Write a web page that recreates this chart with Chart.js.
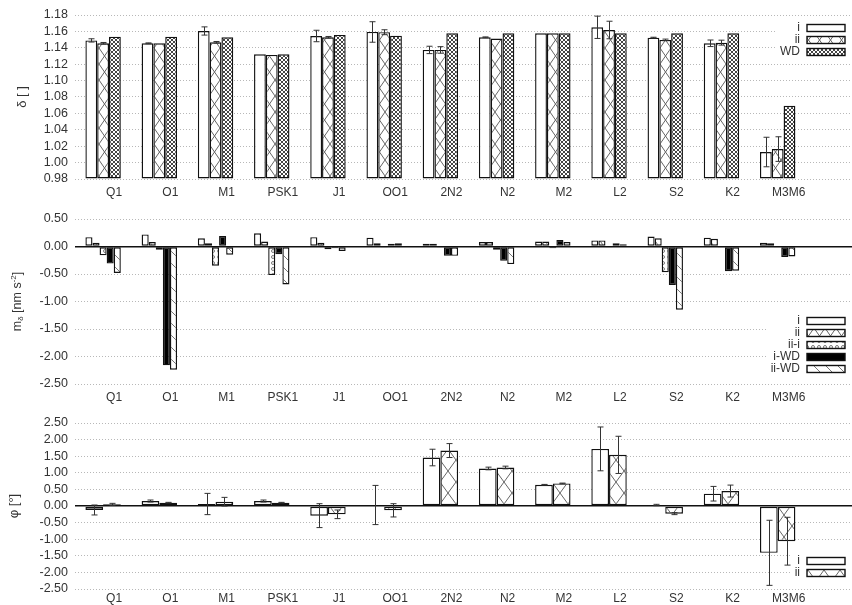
<!DOCTYPE html>
<html>
<head>
<meta charset="utf-8">
<script src="https://cdn.jsdelivr.net/npm/chart.js@4/dist/chart.umd.min.js"></script>
<style>
  html, body { margin: 0; padding: 0; background: #fff; overflow: hidden; width: 852px; height: 605px; }
  canvas { position: absolute; left: 0; }
</style>
</head>
<body>
<canvas id="c1" width="862" height="200" style="top:0"></canvas>
<canvas id="c2" width="862" height="205" style="top:200px"></canvas>
<canvas id="c3" width="862" height="205" style="top:405px"></canvas>
<script>
// Tidal parameters per wave group: gravimetric factor, residual amplitude, phase lag.
const CATEGORIES = ["Q1", "O1", "M1", "PSK1", "J1", "OO1", "2N2", "N2", "M2", "L2", "S2", "K2", "M3M6"];

// delta [ ]
const DELTA_I      = [1.149, 1.1455, 1.1605, 1.132, 1.1544, 1.1593, 1.1374, 1.1528, 1.1577, 1.165, 1.1524, 1.1455, 1.0129];
const DELTA_I_ERR  = [0.002, 0.0005, 0.005, 0, 0.007, 0.0125, 0.0045, 0.0005, 0, 0.0136, 0.0005, 0.004, 0.018];
const DELTA_II     = [1.1455, 1.1455, 1.1467, 1.1313, 1.1528, 1.159, 1.1374, 1.1512, 1.1577, 1.1617, 1.1496, 1.1463, 1.0165];
const DELTA_II_ERR = [0.001, 0, 0.001, 0, 0.001, 0.003, 0.004, 0, 0, 0.0107, 0.001, 0.003, 0.015];
const DELTA_WD     = [1.1536, 1.1536, 1.1528, 1.132, 1.1557, 1.1548, 1.1577, 1.1577, 1.1577, 1.1577, 1.1577, 1.1577, 1.0692];

// m_delta [nm s^-2]
const M_I     = [0.17, 0.22, 0.15, 0.24, 0.17, 0.16, 0.05, 0.08, 0.09, 0.11, 0.18, 0.16, 0.07];
const M_II    = [0.07, 0.08, 0.06, 0.09, 0.07, 0.06, 0.05, 0.08, 0.09, 0.11, 0.15, 0.14, 0.06];
const M_II_I  = [-0.16, -0.06, -0.35, -0.52, -0.05, -0.01, -0.01, -0.06, -0.03, -0.02, -0.47, -0.01, -0.02];
const M_I_WD  = [-0.31, -2.16, 0.19, -0.14, -0.03, 0.05, -0.17, -0.26, 0.12, 0.06, -0.70, -0.45, -0.19];
const M_II_WD = [-0.48, -2.24, -0.15, -0.69, -0.08, 0.06, -0.17, -0.32, 0.08, 0.04, -1.15, -0.44, -0.18];

// phi [deg]
const PHI_I      = [-0.12, 0.15, 0.06, 0.15, -0.29, 0.03, 1.46, 1.13, 0.64, 1.72, 0.03, 0.37, -1.41];
const PHI_I_ERR  = [0.15, 0.03, 0.32, 0.03, 0.36, 0.59, 0.25, 0.04, 0.01, 0.66, 0.02, 0.22, 0.98];
const PHI_II     = [0.05, 0.10, 0.13, 0.10, -0.25, -0.13, 1.67, 1.16, 0.68, 1.54, -0.23, 0.45, -1.06];
const PHI_II_ERR = [0.03, 0.01, 0.13, 0.01, 0.13, 0.20, 0.21, 0.04, 0.01, 0.56, 0.03, 0.18, 0.72];

const FONT = '"Liberation Sans", Arial, Helvetica, sans-serif';
const TEXT = "#333";
Chart.defaults.font.family = FONT;
Chart.defaults.color = TEXT;

// ─── fill patterns ─────────────────────────────────────────────────────────
function makePattern(w, h, color, draw) {
  const c = document.createElement("canvas");
  c.width = w; c.height = h;
  const g = c.getContext("2d");
  g.fillStyle = "#fff";
  g.fillRect(0, 0, w, h);
  g.strokeStyle = color;
  g.lineWidth = 1;
  draw(g, w, h);
  return g.createPattern(c, "repeat");
}
const crossLines = (g, w, h) => {
  g.beginPath();
  g.moveTo(-w, -h); g.lineTo(2 * w, 2 * h);
  g.moveTo(2 * w, -h); g.lineTo(-w, 2 * h);
  g.stroke();
};
const PAT_X     = makePattern(11, 16, "#666", crossLines);
const PAT_X_BIG = makePattern(16, 22, "#666", crossLines);
const PAT_DENSE = makePattern(4, 4, "#444", crossLines);
const PAT_DOTS  = makePattern(6, 6, "#777", (g) => {
  g.beginPath(); g.arc(3, 3, 1.5, 0, Math.PI * 2); g.stroke();
});
const PAT_DIAG  = makePattern(12, 12, "#777", (g, w) => {
  g.beginPath();
  for (let k = -1; k <= 1; k++) { g.moveTo(k * w, 0); g.lineTo(k * w + w, w); }
  g.stroke();
});

// ─── plugins ──────────────────────────────────────────────────────────────
const boxLegend = {
  id: "boxLegend",
  afterDatasetsDraw(chart, args, opts) {
    if (!opts.items) return;
    const ctx = chart.ctx, a = chart.chartArea;
    const n = opts.items.length, rowH = 12, boxW = 38, boxH = 7;
    const right = 845, textRight = right - boxW - 7;
    const y0 = opts.fromTop != null ? a.top + opts.fromTop : a.bottom - opts.fromBottom - (n - 1) * rowH;
    ctx.save();
    ctx.font = "12px " + FONT;
    const textW = Math.max(...opts.items.map(it => ctx.measureText(it.label).width));
    const bgLeft = textRight - textW - 4;
    ctx.fillStyle = "#fff";
    ctx.fillRect(bgLeft, y0 - rowH / 2 - 1, 900 - bgLeft, n * rowH + 2);
    opts.items.forEach((it, k) => {
      const y = y0 + k * rowH;
      ctx.fillStyle = TEXT;
      ctx.textAlign = "right";
      ctx.textBaseline = "middle";
      ctx.fillText(it.label, textRight, y);
      ctx.fillStyle = it.fill;
      ctx.fillRect(right - boxW, y - boxH / 2, boxW, boxH);
      ctx.strokeStyle = "#111";
      ctx.lineWidth = 1.4;
      ctx.strokeRect(right - boxW, y - boxH / 2, boxW, boxH);
    });
    ctx.restore();
  },
};

const errorBars = {
  id: "errorBars",
  afterDatasetsDraw(chart) {
    const ctx = chart.ctx, y = chart.scales.y;
    ctx.save();
    ctx.strokeStyle = "#333";
    ctx.lineWidth = 1;
    chart.data.datasets.forEach((ds, di) => {
      if (!ds.errors) return;
      chart.getDatasetMeta(di).data.forEach((bar, i) => {
        const e = ds.errors[i], v = ds.data[i];
        if (!e || v == null) return;
        const top = y.getPixelForValue(v + e), bot = y.getPixelForValue(v - e);
        const x = Math.round(bar.x) + 0.5, w = 3;
        ctx.beginPath();
        ctx.moveTo(x, top); ctx.lineTo(x, bot);
        ctx.moveTo(x - w, top); ctx.lineTo(x + w, top);
        ctx.moveTo(x - w, bot); ctx.lineTo(x + w, bot);
        ctx.stroke();
      });
    });
    ctx.restore();
  },
};

const yTitle = {
  id: "yTitle",
  afterDraw(chart, args, opts) {
    if (!opts.parts) return;
    const ctx = chart.ctx, a = chart.chartArea;
    ctx.save();
    ctx.translate(opts.x, (a.top + a.bottom) / 2);
    ctx.rotate(-Math.PI / 2);
    let total = 0;
    opts.parts.forEach(p => { ctx.font = p.size + "px " + FONT; total += ctx.measureText(p.t).width; });
    let x = -total / 2;
    ctx.fillStyle = TEXT;
    ctx.textBaseline = "middle";
    ctx.textAlign = "left";
    opts.parts.forEach(p => {
      ctx.font = p.size + "px " + FONT;
      ctx.fillText(p.t, x, p.dy || 0);
      x += ctx.measureText(p.t).width;
    });
    ctx.restore();
  },
};

// ─── shared options ───────────────────────────────────────────────────────
const isZero = (c) => c.tick && Math.abs(c.tick.value) < 1e-9;

function panelOptions(yMin, yMax, step, padTop, zeroLine, labelPad, legendOpts, titleOpts) {
  return {
    responsive: false,
    animation: false,
    layout: { padding: { top: padTop, left: 0, right: 0, bottom: 0 } },
    datasets: {
      bar: { categoryPercentage: 0.63, barPercentage: 1, borderColor: "#111", borderWidth: 1.4, borderSkipped: false },
    },
    plugins: {
      legend: { display: false },
      tooltip: { enabled: false },
      boxLegend: legendOpts,
      yTitle: titleOpts,
    },
    scales: {
      x: {
        grid: { display: false, drawTicks: false },
        border: { display: false },
        ticks: { color: TEXT, font: { size: 12 }, padding: labelPad, labelOffset: 11, maxRotation: 0, autoSkip: false },
        afterFit: (s) => { s.height = 21; },
      },
      y: {
        min: yMin, max: yMax,
        grid: {
          drawTicks: false,
          color: (c) => (zeroLine && isZero(c) ? "#111" : "#b8b8b8"),
          lineWidth: (c) => (zeroLine && isZero(c) ? 1.5 : 1),
        },
        border: { display: false, dash: (c) => (zeroLine && isZero(c) ? [] : [1, 2]) },
        ticks: {
          stepSize: step, autoSkip: false, maxTicksLimit: 30, padding: 7,
          color: TEXT, font: { size: 12.5 }, callback: (v) => v.toFixed(2),
        },
        afterFit: (s) => { s.width = 75; },
      },
    },
  };
}

const LABELS = [...CATEGORIES, ""];
const PLUGINS = [boxLegend, errorBars, yTitle];

// ─── delta panel ──────────────────────────────────────────────────────────
new Chart(document.getElementById("c1"), {
  type: "bar",
  data: {
    labels: LABELS,
    datasets: [
      { label: "i",  data: DELTA_I,  errors: DELTA_I_ERR,  backgroundColor: "#fff",    base: 0.98 },
      { label: "ii", data: DELTA_II, errors: DELTA_II_ERR, backgroundColor: PAT_X,     base: 0.98 },
      { label: "WD", data: DELTA_WD,                       backgroundColor: PAT_DENSE, base: 0.98 },
    ],
  },
  options: panelOptions(0.98, 1.18, 0.02, 15, false, 6,
    { fromTop: 13, items: [{ label: "i", fill: "#fff" }, { label: "ii", fill: PAT_X }, { label: "WD", fill: PAT_DENSE }] },
    { x: 22, parts: [{ t: "δ [ ]", size: 13 }] }),
  plugins: PLUGINS,
});

// ─── m_delta panel ────────────────────────────────────────────────────────
new Chart(document.getElementById("c2"), {
  type: "bar",
  data: {
    labels: LABELS,
    datasets: [
      { label: "i",     data: M_I,     backgroundColor: "#fff" },
      { label: "ii",    data: M_II,    backgroundColor: PAT_X },
      { label: "ii-i",  data: M_II_I,  backgroundColor: PAT_DOTS },
      { label: "i-WD",  data: M_I_WD,  backgroundColor: "#000" },
      { label: "ii-WD", data: M_II_WD, backgroundColor: PAT_DIAG },
    ],
  },
  options: panelOptions(-2.5, 0.5, 0.5, 19, true, 6,
    { fromBottom: 15, items: [
      { label: "i", fill: "#fff" }, { label: "ii", fill: PAT_X }, { label: "ii-i", fill: PAT_DOTS },
      { label: "i-WD", fill: "#000" }, { label: "ii-WD", fill: PAT_DIAG },
    ] },
    { x: 18, parts: [
      { t: "m", size: 12.5 }, { t: "δ", size: 8, dy: 3 }, { t: " [nm s", size: 12.5 },
      { t: "-2", size: 8, dy: -4 }, { t: "]", size: 12.5 },
    ] }),
  plugins: PLUGINS,
});

// ─── phi panel ────────────────────────────────────────────────────────────
new Chart(document.getElementById("c3"), {
  type: "bar",
  data: {
    labels: LABELS,
    datasets: [
      { label: "i",  data: PHI_I,  errors: PHI_I_ERR,  backgroundColor: "#fff" },
      { label: "ii", data: PHI_II, errors: PHI_II_ERR, backgroundColor: PAT_X_BIG },
    ],
  },
  options: panelOptions(-2.5, 2.5, 0.5, 18, true, 2,
    { fromBottom: 16, items: [{ label: "i", fill: "#fff" }, { label: "ii", fill: PAT_X_BIG }] },
    { x: 14, parts: [{ t: "φ [°]", size: 13 }] }),
  plugins: PLUGINS,
});
</script>
</body>
</html>
